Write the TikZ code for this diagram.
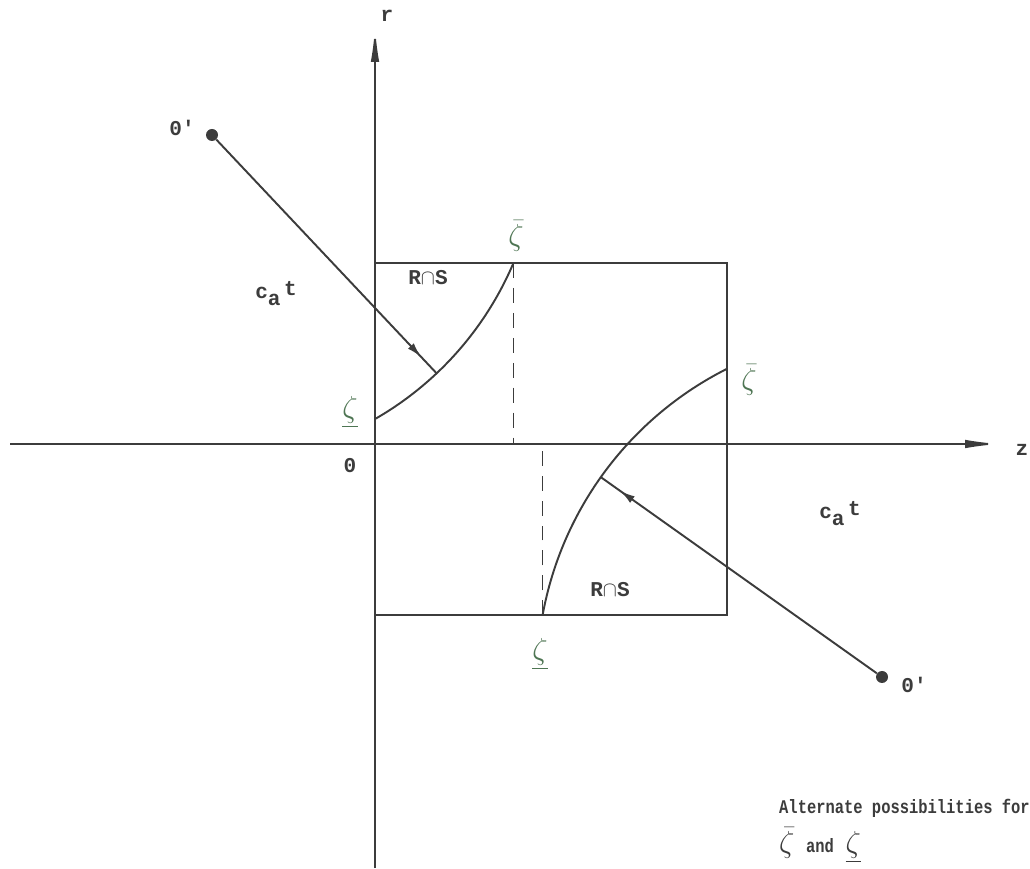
\documentclass[tikz,border=0pt]{standalone}
\usepackage{fontspec}
\setmonofont{Liberation Mono}
\usetikzlibrary{arrows.meta, calc, decorations.markings}
\definecolor{ink}{HTML}{3c3c3c}
\definecolor{zetagreen}{HTML}{4e7553}

\begin{document}
\begin{tikzpicture}[x=0.02cm, y=0.02cm,
  axis/.style={draw=ink, line width=1.1pt, -{Latex[length=7mm, width=1.7mm]}},
  edge/.style={draw=ink, line width=1.1pt},
  ray/.style={edge, postaction={decorate}, decoration={markings, mark=at position 0.93 with {\arrow{Latex[length=3mm, width=1.6mm]}}}},
  guide/.style={draw=ink, line width=0.8pt, dash pattern=on 8.5pt off 5.7pt},
  dot/.style={circle, fill=ink, inner sep=0pt, minimum size=0.24cm},
  lbl/.style={text=ink, font=\ttfamily\bfseries\large},
  zeta/.style={text=zetagreen, font=\LARGE},
  caption/.style={text=ink, font=\ttfamily\bfseries\fontsize{11}{13}\selectfont, anchor=west}
]
\useasboundingbox (0,0) rectangle (1030,868);
% axes
\coordinate (orig) at (375,424);
\coordinate (rbot) at (375,0);
\coordinate (rtop) at (375,841);
\coordinate (zleft) at (10,424);
\coordinate (zright) at (1000,424);
\draw[axis] (rbot) -- (rtop);
\draw[axis] (zleft) -- (zright);
\node[lbl] (rlab) at (387,852) {r};
\node[lbl] (zlab) at (1022,418) {z};
\node[lbl] (olab) at (350,402) {0};
% the square
\draw[edge] (375,253) rectangle (727,605);

% upper case
\node[dot] (oup) at (212,733) {};
\node[lbl] (ouplab) at (182,740) {0'};
\coordinate (upstart) at ($(oup.center)+(-60:327.5)$);
\coordinate (upend) at ($(oup.center)+(-23:327.5)$);
\coordinate (uphit) at ($(oup.center)+(-46.7:327.5)$);
\draw[edge] (upstart) arc[start angle=-60, end angle=-23, radius=327.5];
\draw[ray] (oup) -- (uphit);
\draw[guide] (upend) -- (upend |- orig);
\node[lbl] (upca) at (276,574) {c\raisebox{-0.7ex}{a}\,\raisebox{0.2ex}{t}};
\node[lbl] (uprs) at (428,590) {R$\cap$S};
\node[zeta] (upbar) at (516,632) {$\bar{\zeta}$};
\node[zeta] (upund) at (350,456) {$\underline{\zeta}$};

% lower case
\node[dot] (odn) at (882,191) {};
\node[lbl] (odnlab) at (914,183) {0'};
\coordinate (dnstart) at ($(odn.center)+(169.7:345)$);
\coordinate (dnend) at ($(odn.center)+(116.8:345)$);
\coordinate (dnhit) at ($(odn.center)+(144.6:345)$);
\draw[edge] (dnstart) arc[start angle=169.7, end angle=116.8, radius=345];
\draw[ray] (odn) -- (dnhit);
\draw[guide] (dnstart) -- (dnstart |- orig);
\node[lbl] (dnca) at (840,354) {c\raisebox{-0.7ex}{a}\,\raisebox{0.2ex}{t}};
\node[lbl] (dnrs) at (610,278) {R$\cap$S};
\node[zeta] (dnbar) at (749,488) {$\bar{\zeta}$};
\node[zeta] (dnund) at (540,214) {$\underline{\zeta}$};

% caption
\node[caption] (cap1) at (773,60) {\scalebox{0.8}[1]{Alternate possibilities for}};
\node[caption] (cap2) at (773,23) {{\LARGE$\bar{\zeta}$} \scalebox{0.8}[1]{and} {\LARGE$\underline{\zeta}$}};
\end{tikzpicture}
\end{document}
